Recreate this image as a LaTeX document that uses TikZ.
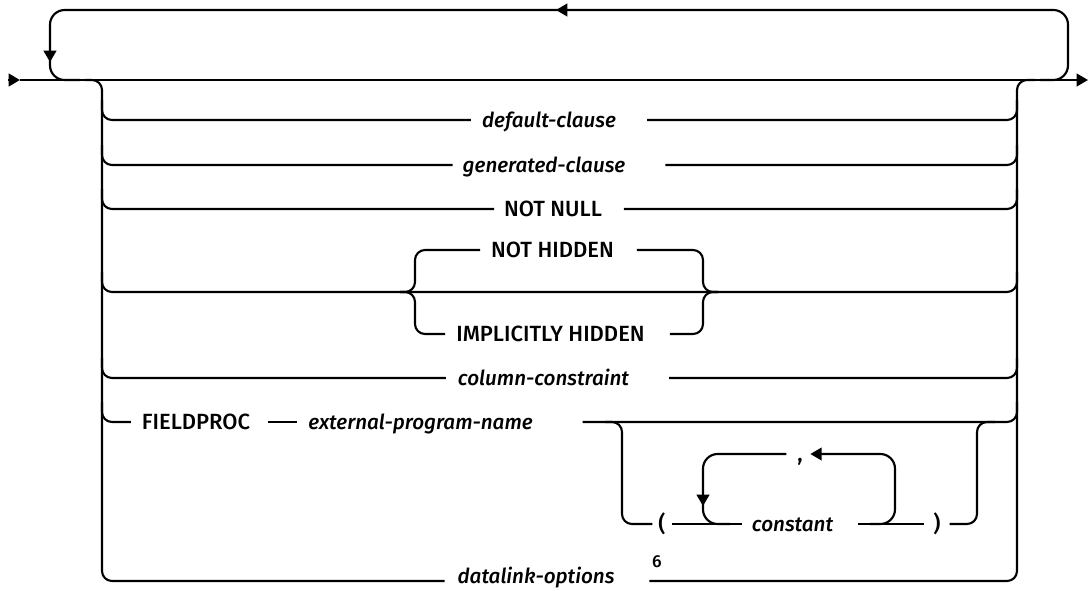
\documentclass[tikz,border=0pt]{standalone}
\usepackage{fontspec}
\setsansfont{Fira Sans}[UprightFont={* Medium}, ItalicFont={* Medium Italic}]
\usetikzlibrary{positioning, arrows.meta}

\begin{document}
\begin{tikzpicture}[x=0.75pt, y=-0.75pt, line width=1.6pt,
    rail/.style={rounded corners=7.5pt},
    loopback/.style={rounded corners=11pt},
    tip/.style={-{Triangle[length=8.5pt, width=9.5pt]}},
    kw/.style={font=\sffamily\fontsize{16.5}{18}\selectfont, inner sep=0pt, text height=10.9pt, text depth=0pt},
    var/.style={kw, font=\sffamily\itshape\fontsize{15.5}{17}\selectfont}]
    \useasboundingbox (0,0) rectangle (1090,590);

    % main line
    \coordinate (start) at (8,80);
    \coordinate (in) at (20,80);
    \coordinate (out) at (1088,80);
    \draw[tip] (start) -- (in);
    \draw[tip] (in) -- (out);

    % repeat loop over the whole group
    \draw[loopback, tip] (1040,80) -| (1068,10) -- (556,10);
    \draw[loopback, tip] (560,10) -| (50,62);
    \draw[loopback] (50,58) |- (80,80);

    % plain rows
    \foreach \nm/\txt/\st/\y/\cx/\gl/\gr in {dc/default-clause/var/120/549/7.5/22.5,
        gc/generated-clause/var/165/544/6.75/29.25,
        nn/NOT NULL/kw/209/553/6.75/15.75,
        cc/column-constraint/var/378/543.5/8.25/29.25} {
        \node[\st] (\nm) at (\cx,\y) {\txt};
        \draw[rail] (102,\y-20) |- ([xshift=-\gl pt]\nm.west);
        \draw[rail] ([xshift=\gr pt]\nm.east) -| (1017,\y-20);
    }

    % hidden choice
    \node[kw] (nh) at (552.5,250) {NOT HIDDEN};
    \node[kw] (ih) at (550.5,334) {IMPLICITLY HIDDEN};
    \draw[rail] (102,272) |- (560,292) -| (1017,272);
    \draw[rail] (400,292) -| (415,250) -- ([xshift=-7.5pt]nh.west);
    \draw[rail] (400,292) -| (415,334) -- ([xshift=-7.5pt]ih.west);
    \draw[rail] ([xshift=16.5pt]nh.east) -| (703,292) -- (718,292);
    \draw[rail] ([xshift=18pt]ih.east) -| (703,292) -- (718,292);

    % fieldproc row
    \node[kw] (fp) at (196,422) {FIELDPROC};
    \node[var] (epn) at (420.5,422) {external-program-name};
    \draw[rail] (102,402) |- ([xshift=-7.5pt]fp.west);
    \draw ([xshift=12.75pt]fp.east) -- ([xshift=-7.5pt]epn.west);
    \draw[rail] ([xshift=36.75pt]epn.east) -| (1017,402);

    % optional constant list
    \node[kw] (lp) at (662,524) {(};
    \node[var] (cst) at (792.5,524) {constant};
    \node[kw] (rp) at (937,524) {)};
    \node[kw] (cm) at (800,454) {,};
    \draw[rail] (605,422) -| (622,524) -- ([xshift=-3.75pt]lp.west);
    \draw[rail] ([xshift=6pt]rp.east) -| (977,422) -- (995,422);
    \draw ([xshift=3.75pt]lp.east) -- ([xshift=-6.75pt]cst.west);
    \draw ([xshift=18pt]cst.east) -- ([xshift=-6pt]rp.west);
    \draw[loopback, tip] (870,524) -| (895,454) -- ([xshift=5pt]cm.east);
    \draw[loopback, tip] ([xshift=-7.5pt]cm.west) -| (703,506);
    \draw[loopback] (703,500) |- (730,524);

    % datalink row and outer rails
    \node[var] (dl) at (536,576) {datalink-options};
    \node[font=\sffamily\fontsize{13}{14}\selectfont, inner sep=0pt] (fn) at (657,562) {6};
    \draw[rail] (85,80) -| (102,560) |- ([xshift=-9pt]dl.west |- 0,581);
    \draw[rail] ([xshift=25.5pt]dl.east |- 0,581) -| (1017,100) |- (1035,80);
\end{tikzpicture}
\end{document}
